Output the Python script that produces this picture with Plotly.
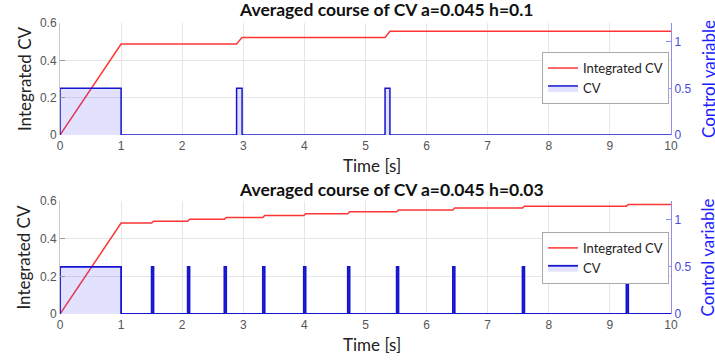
import plotly.graph_objects as go
from plotly.subplots import make_subplots

# ---------------- data ----------------
# top panel (h = 0.1)
top_pulse_start = [0.0, 2.89, 5.32]
top_pulse_end = [1.0, 2.98, 5.40]
top_int_t = [0, 1.0, 2.89, 2.98, 5.32, 5.40, 10]
top_int_v = [0, 0.487, 0.487, 0.523, 0.523, 0.556, 0.556]

# bottom panel (h = 0.03)
bot_pulse_start = [0.0, 1.50, 2.09, 2.69, 3.32, 3.99, 4.71, 5.51, 6.43, 7.57, 9.27]
bot_pulse_end = [1.0, 1.53, 2.12, 2.72, 3.35, 4.02, 4.74, 5.54, 6.46, 7.60, 9.30]
bot_int_v = [0.483, 0.493, 0.503, 0.513, 0.523, 0.533, 0.543, 0.553, 0.563, 0.573, 0.582]

cv_level = 0.5
t_end = 10

titles = ["Averaged course of CV a=0.045 h=0.1", "Averaged course of CV a=0.045 h=0.03"]
x_ticks = list(range(0, 11))
left_ticks = [0, 0.2, 0.4, 0.6]
left_tick_text = ["0", "0.2", "0.4", "0.6"]
right_ticks = [0, 0.5, 1]
right_tick_text = ["0", "0.5", "1"]


def step_series(starts, ends, level, tmax):
    t, v = [], []
    for s, e in zip(starts, ends):
        t += [s, s, e, e]
        v += [0, level, level, 0]
    t.append(tmax)
    v.append(0)
    return t, v


def integrated_bottom(starts, ends, vals, tmax):
    t = [0, ends[0]]
    v = [0, vals[0]]
    for i, (s, e) in enumerate(zip(starts[1:], ends[1:])):
        t += [s, e]
        v += [vals[i], vals[i + 1]]
    t.append(tmax)
    v.append(vals[-1])
    return t, v


top_cv_t, top_cv_v = step_series(top_pulse_start, top_pulse_end, cv_level, t_end)
bot_cv_t, bot_cv_v = step_series(bot_pulse_start, bot_pulse_end, cv_level, t_end)
bot_int_t, bot_int_vv = integrated_bottom(bot_pulse_start, bot_pulse_end, bot_int_v, t_end)

RED = "#ff3535"
BLUE = "#1515d0"
FILL = "rgba(60,60,255,0.15)"
TXT = "Lato"
TICKF = dict(family="Liberation Sans", size=12, color="#555555")
TICKR = dict(family="Liberation Sans", size=12, color="#4a4ad8")

fig = make_subplots(rows=2, cols=1, specs=[[{"secondary_y": True}], [{"secondary_y": True}]],
                    vertical_spacing=0.227)

fig.add_trace(go.Scatter(x=top_int_t, y=top_int_v, mode="lines", name="Integrated CV",
                         line=dict(color=RED, width=1.5), legend="legend"), row=1, col=1, secondary_y=False)
fig.add_trace(go.Scatter(x=top_cv_t, y=top_cv_v, mode="lines", name="CV", fill="tozeroy",
                         fillcolor=FILL, line=dict(color=BLUE, width=1.5), legend="legend"),
              row=1, col=1, secondary_y=True)
fig.add_trace(go.Scatter(x=bot_int_t, y=bot_int_vv, mode="lines", name="Integrated CV",
                         line=dict(color=RED, width=1.5), legend="legend2"), row=2, col=1, secondary_y=False)
fig.add_trace(go.Scatter(x=bot_cv_t, y=bot_cv_v, mode="lines", name="CV", fill="tozeroy",
                         fillcolor=FILL, line=dict(color=BLUE, width=1.8), legend="legend2"),
              row=2, col=1, secondary_y=True)

for r in (1, 2):
    fig.update_xaxes(row=r, col=1, range=[0, 10], tickvals=x_ticks, showgrid=True, gridcolor="#e6e6e6",
                     gridwidth=1, zeroline=False, showline=False, ticks="", tickfont=TICKF, ticklabelstandoff=2)
    fig.update_yaxes(row=r, col=1, secondary_y=False, range=[0, 0.6], tickvals=left_ticks,
                     ticktext=left_tick_text, showgrid=True, gridcolor="#e6e6e6", zeroline=False,
                     showline=True, linecolor="#c8c8c8", ticks="inside", ticklen=5, tickcolor="#999999",
                     tickfont=TICKF)
    fig.update_yaxes(row=r, col=1, secondary_y=True, range=[0, 1.2], tickvals=right_ticks,
                     ticktext=right_tick_text, showgrid=False, zeroline=False, showline=True,
                     linecolor="#8c8cff", ticks="inside", ticklen=5, tickcolor="#8c8cff", tickfont=TICKR)

LEG = dict(xanchor="right", yanchor="top", bgcolor="white", bordercolor="#a8a8a8", borderwidth=1,
           font=dict(family=TXT, size=13, color="#222222"), tracegroupgap=0, itemwidth=30)
fig.update_layout(
    width=715, height=362,
    margin=dict(l=60, r=44, t=23, b=48),
    plot_bgcolor="white", paper_bgcolor="white",
    font=dict(family=TXT),
    showlegend=True,
    legend=dict(LEG, x=0.9967, y=0.90),
    legend2=dict(LEG, x=0.9967, y=0.282),
)

# domains
fig.update_layout(yaxis=dict(domain=[0.615, 1.0]), yaxis2=dict(domain=[0.615, 1.0]),
                  yaxis3=dict(domain=[0.0, 0.388]), yaxis4=dict(domain=[0.0, 0.388]),
                  xaxis=dict(domain=[0, 1]), xaxis2=dict(domain=[0, 1]))

# titles
fig.add_annotation(text="<b>" + titles[0] + "</b>", xref="paper", yref="paper", x=0.535, y=1.0,
                   yshift=14, showarrow=False, font=dict(family=TXT, size=17.5, color="#111111"),
                   xanchor="center", yanchor="middle")
fig.add_annotation(text="<b>" + titles[1] + "</b>", xref="paper", yref="paper", x=0.543, y=0.388,
                   yshift=12, showarrow=False, font=dict(family=TXT, size=17.5, color="#111111"),
                   xanchor="center", yanchor="middle")
# axis titles
for ymid, ybot in ((0.8075, 0.615), (0.194, 0.0)):
    fig.add_annotation(text="Integrated CV", xref="paper", yref="paper", x=0, xshift=-36, y=ymid,
                       textangle=-90, showarrow=False, font=dict(family=TXT, size=17, color="#222222"),
                       xanchor="center", yanchor="middle")
    fig.add_annotation(text="Control variable", xref="paper", yref="paper", x=1, xshift=37, y=ymid,
                       textangle=-90, showarrow=False, font=dict(family=TXT, size=17, color="#2020ff"),
                       xanchor="center", yanchor="middle")
    fig.add_annotation(text="Time [s]", xref="paper", yref="paper", x=0.51, y=ybot, yshift=-30,
                       showarrow=False, font=dict(family=TXT, size=17, color="#222222"),
                       xanchor="center", yanchor="middle")

fig.write_html("out.html", config={"displayModeBar": False},
               post_script="document.body.style.margin='0';")
